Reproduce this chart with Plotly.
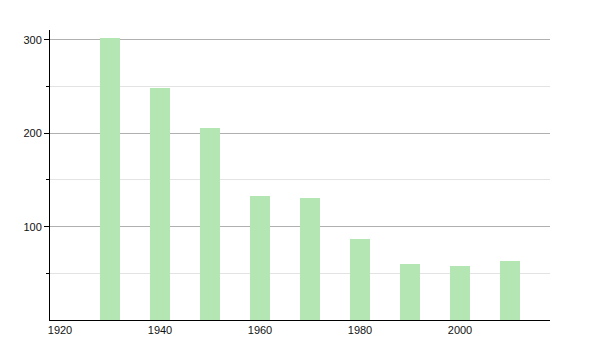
import plotly.graph_objects as go

years = [1930, 1940, 1950, 1960, 1970, 1980, 1990, 2000, 2010]
population = [302, 249, 206, 133, 131, 87, 60, 58, 63]
x_ticks = [1920, 1940, 1960, 1980, 2000]
y_ticks = [100, 200, 300]
y_minor = [50, 150, 250]

fig = go.Figure(go.Bar(
    x=years, y=population, width=4,
    marker=dict(color="#b3e6b3", line=dict(width=0)),
))

fig.update_layout(
    width=600, height=350,
    margin=dict(l=50, r=50, t=30, b=30),
    paper_bgcolor="white", plot_bgcolor="white",
    font=dict(family="Liberation Sans, Arial, sans-serif", size=11, color="#111111"),
    showlegend=False,
    bargap=0,
)
fig.update_xaxes(
    range=[1918, 2018], tickvals=x_ticks, ticks="", showgrid=False,
    showline=True, linecolor="black", linewidth=1, zeroline=False,
)
fig.update_yaxes(
    range=[0, 310.7], tickvals=y_ticks, ticks="outside", ticklen=5,
    tickcolor="black", showline=True, linecolor="black", linewidth=1,
    showgrid=True, gridcolor="#b0b0b0", gridwidth=1, zeroline=False,
    minor=dict(tickvals=y_minor, ticks="outside", ticklen=3, tickcolor="black",
               showgrid=True, gridcolor="#e3e3e3", gridwidth=1),
)

fig.write_html("out.html")
